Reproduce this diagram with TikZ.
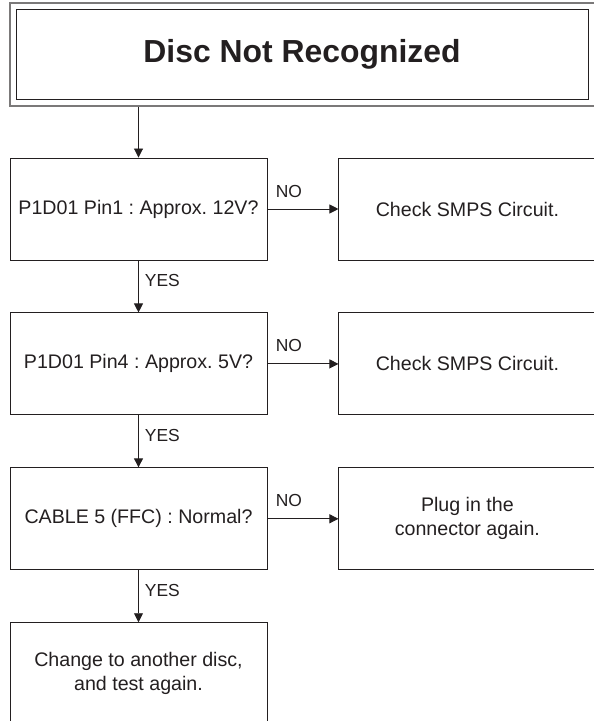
\documentclass[tikz,border=0pt]{standalone}
\usepackage{fontspec}
\setmainfont{Liberation Sans}
\usepackage{xcolor}
\usetikzlibrary{arrows.meta,positioning}
\definecolor{ink}{HTML}{231F20}
\frenchspacing
\tikzset{
  stepbox/.style={draw=ink, line width=0.9bp, align=center, text=ink, minimum width=257bp, minimum height=102bp, inner sep=2bp, font=\fontsize{19.7}{24}\selectfont},
  titlebox/.style={draw=ink, line width=0.9bp, align=center, text=ink, minimum width=572bp, minimum height=90bp, font=\fontsize{32}{38}\selectfont\bfseries},
  framebox/.style={draw=ink!60, line width=1.4bp, minimum width=586bp, minimum height=103bp},
  lbl/.style={text=ink, inner sep=0pt, font=\fontsize{17.5}{20}\selectfont},
  line/.style={-{Triangle[length=9bp,width=9bp]}, draw=ink, line width=0.9bp}
}
\begin{document}
\begin{tikzpicture}[x=1bp, y=1bp, node distance=52bp and 71bp]
  \useasboundingbox (0,0) rectangle (594,-721);
  % title
  \node[framebox] (titleframe) at (303,-54.5) {};
  \node[titlebox] (title) at (302,-54) {Disc Not Recognized};
  % checks
  \node[stepbox] (q1) at (138.5,-209) {P1D01 Pin1 : Approx. 12V?};
  \node[stepbox, below=of q1] (q2) {P1D01 Pin4 : Approx. 5V?};
  \node[stepbox, below=of q2] (q3) {CABLE 5 (FFC) : Normal?};
  \node[stepbox, below=of q3] (q4) {Change to another disc,\\and test again.};
  % actions
  \node[stepbox, right=of q1] (a1) {Check SMPS Circuit.};
  \node[stepbox, right=of q2] (a2) {Check SMPS Circuit.};
  \node[stepbox, right=of q3] (a3) {Plug in the\\connector again.};
  % arrows
  \draw[line] (titleframe.south -| q1.north) -- (q1.north);
  \draw[line] (q1) -- node[lbl, pos=0, anchor=base west, xshift=6bp, yshift=-26bp] {YES} (q2);
  \draw[line] (q2) -- node[lbl, pos=0, anchor=base west, xshift=6bp, yshift=-26bp] {YES} (q3);
  \draw[line] (q3) -- node[lbl, pos=0, anchor=base west, xshift=6bp, yshift=-26bp] {YES} (q4);
  \draw[line] (q1) -- node[lbl, pos=0, anchor=base west, xshift=8bp, yshift=12bp] {NO} (a1);
  \draw[line] (q2) -- node[lbl, pos=0, anchor=base west, xshift=8bp, yshift=12bp] {NO} (a2);
  \draw[line] (q3) -- node[lbl, pos=0, anchor=base west, xshift=8bp, yshift=12bp] {NO} (a3);
\end{tikzpicture}
\end{document}
